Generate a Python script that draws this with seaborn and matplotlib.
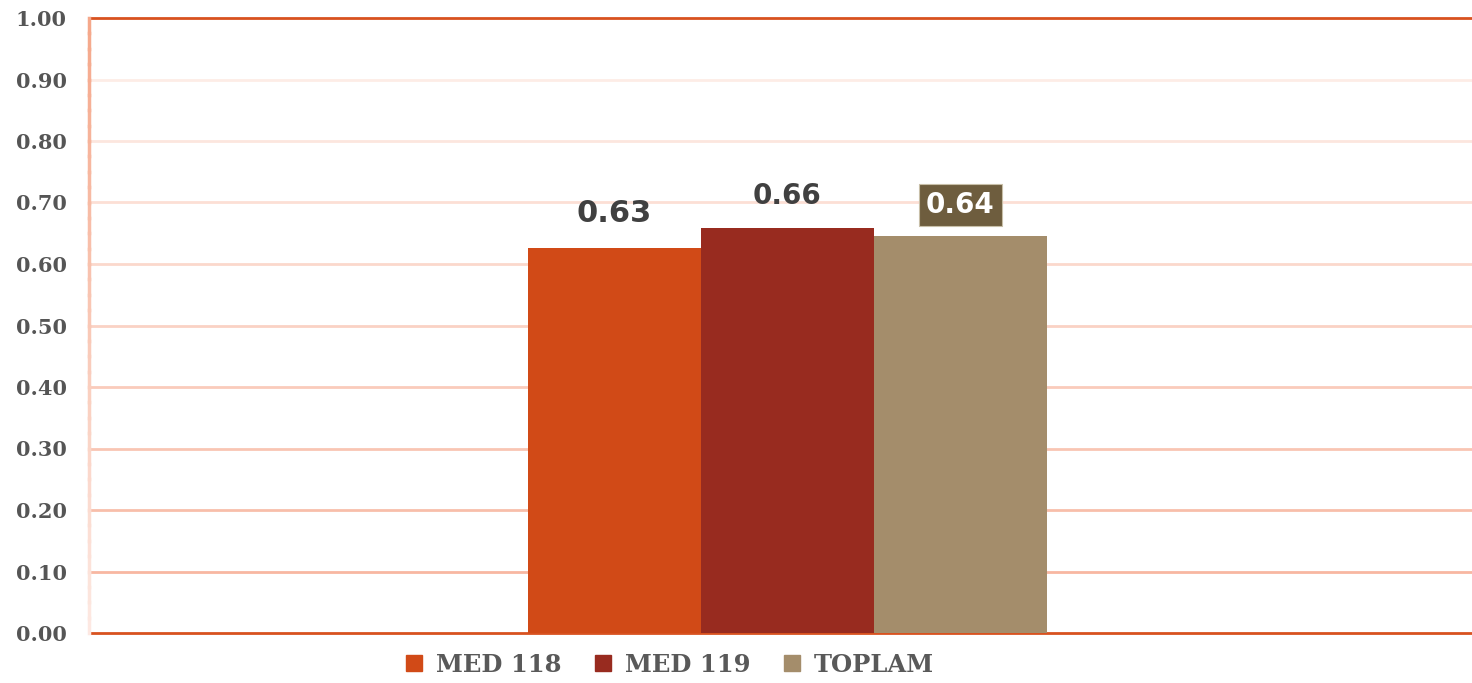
import numpy as np
import pandas as pd
import seaborn as sns
import matplotlib.pyplot as plt
from matplotlib.colors import LinearSegmentedColormap
from matplotlib.lines import Line2D

# data
groups = ['MED 118', 'MED 119', 'TOPLAM']
values = [0.626, 0.658, 0.645]
labels = ['0.63', '0.66', '0.64']
category = ['']
colors = ['#d14a17', '#982b1f', '#a48d6b']

df = pd.DataFrame({'cat': category * len(groups), 'grup': groups, 'deger': values})

sns.set_style('white')
plt.rcParams['font.family'] = ['DejaVu Sans']

fig = plt.figure(figsize=(14.72, 6.83), dpi=100)
ax = fig.add_axes([89 / 1472, 1 - 633 / 683, (1472 - 89) / 1472, (633 - 18) / 683])

sns.barplot(data=df, x='cat', y='deger', hue='grup', palette=colors, saturation=1,
            width=0.375, dodge=True, legend=False, ax=ax, zorder=3,
            edgecolor='none', linewidth=0)

ax.set_ylim(0, 1.0)
ax.set_xlim(-0.505, 0.495)
ax.set_xlabel('')
ax.set_ylabel('')
ax.set_xticks([])

# grid lines, fading toward the top
ticks = np.arange(0, 1.01, 0.1)
grid_cmap = LinearSegmentedColormap.from_list('g', ['#f7b199', '#fdece6'])
for t in ticks[1:-1]:
    ax.axhline(t, color=grid_cmap(t / 0.9), lw=2, zorder=1)

ax.set_yticks(ticks)
ax.set_yticklabels([f'{t:.2f}' for t in ticks], fontsize=15, fontweight='bold',
                   color='#555555', family='DejaVu Serif')
ax.tick_params(axis='y', length=0, pad=16)

ax.spines['right'].set_visible(False)
for s in ['top', 'bottom']:
    ax.spines[s].set_color('#d8521f')
    ax.spines[s].set_linewidth(2)
ax.spines['left'].set_visible(False)

# left axis line with a fade
spine_cmap = LinearSegmentedColormap.from_list('s', ['#fdeae4', '#f5a88b'])
n = 40
for i in range(n):
    y0, y1 = i / n, (i + 1) / n
    ax.plot([0, 0], [y0, y1], transform=ax.transAxes, color=spine_cmap(y1),
            lw=2.5, solid_capstyle='projecting', clip_on=False, zorder=4)

# value labels
bars = ax.patches
ax.text(bars[0].get_x() + bars[0].get_width() / 2, values[0] + 0.032, labels[0],
        ha='center', va='bottom', fontsize=22, fontweight='bold', color='#404040')
ax.text(bars[1].get_x() + bars[1].get_width() / 2, values[1] + 0.029, labels[1],
        ha='center', va='bottom', fontsize=20, fontweight='bold', color='#404040')
ax.text(bars[2].get_x() + bars[2].get_width() / 2, values[2] + 0.028, labels[2],
        ha='center', va='bottom', fontsize=20, fontweight='bold', color='white',
        bbox=dict(boxstyle='square,pad=0.25', fc='#6e5d3e', ec='#c8bfa8', lw=0.8))

handles = [Line2D([], [], marker='s', ls='', color=c, markersize=12) for c in colors]
fig.legend(handles, groups, loc='center', bbox_to_anchor=(662 / 1472, 1 - 665 / 683),
           ncol=3, frameon=False, handletextpad=-0.1, columnspacing=0.7,
           prop={'family': 'DejaVu Serif', 'weight': 'bold', 'size': 17.5},
           labelcolor='#595959')

fig.savefig('out.png', dpi=100)
